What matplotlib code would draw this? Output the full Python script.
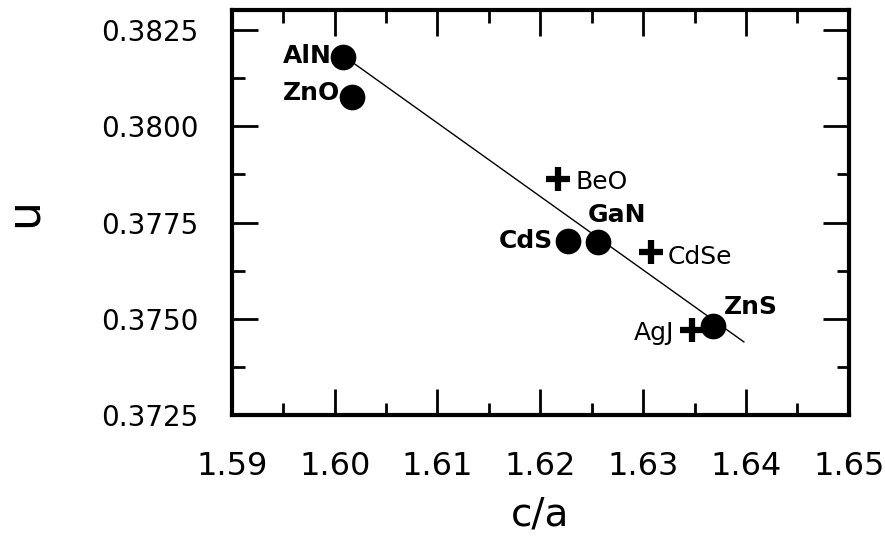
import matplotlib
matplotlib.use("Agg")
import matplotlib.pyplot as plt
from matplotlib.ticker import MultipleLocator

# wurtzite compounds: axial ratio c/a against internal parameter u
dot_names = ["AlN", "ZnO", "CdS", "GaN", "ZnS"]
dot_ca = [1.6008, 1.6017, 1.6227, 1.6256, 1.6368]
dot_u = [0.38180, 0.38076, 0.37702, 0.37700, 0.37481]

cross_names = ["BeO", "CdSe", "AgJ"]
cross_ca = [1.6217, 1.6308, 1.6348]
cross_u = [0.37863, 0.37673, 0.37471]

# fitted trend line
fit_ca = [1.6010, 1.6398]
fit_u = [0.38180, 0.37440]

# label offsets (points) and horizontal alignment
dot_offsets = [(-8, 1, "right"), (-9, 3, "right"), (-11, 0, "right"),
               (14, 19, "center"), (8, 14, "left")]
cross_offsets = [(13, -2, "left"), (12, -3.5, "left"), (-13, -2, "right")]

plt.rcParams["font.family"] = "DejaVu Sans"

fig = plt.figure(figsize=(8.85, 5.36), dpi=100)
ax = fig.add_axes([0.262, 0.2257, 0.697, 0.7556])

ax.plot(fit_ca, fit_u, color="black", lw=1.0, zorder=2)
ax.plot(dot_ca, dot_u, "o", color="black", ms=17.5, zorder=3)
ax.plot(cross_ca, cross_u, "+", color="black", ms=17, mew=4.5, zorder=3)

for name, x, y, (dx, dy, ha) in zip(dot_names, dot_ca, dot_u, dot_offsets):
    ax.annotate(name, (x, y), xytext=(dx, dy), textcoords="offset points",
                ha=ha, va="center", fontsize=18, fontweight="bold")
for name, x, y, (dx, dy, ha) in zip(cross_names, cross_ca, cross_u, cross_offsets):
    ax.annotate(name, (x, y), xytext=(dx, dy), textcoords="offset points",
                ha=ha, va="center", fontsize=18)

ax.set_xlim(1.59, 1.65)
ax.set_ylim(0.3725, 0.38302)
ax.xaxis.set_major_locator(MultipleLocator(0.01))
ax.xaxis.set_minor_locator(MultipleLocator(0.005))
ax.yaxis.set_major_locator(MultipleLocator(0.0025))
ax.yaxis.set_minor_locator(MultipleLocator(0.00125))
ax.xaxis.set_major_formatter(matplotlib.ticker.FormatStrFormatter("%.2f"))
ax.yaxis.set_major_formatter(matplotlib.ticker.FormatStrFormatter("%.4f"))

for side in ax.spines.values():
    side.set_linewidth(3)
ax.tick_params(which="both", direction="in", top=True, right=True, width=2)
ax.tick_params(which="major", length=19)
ax.tick_params(which="minor", length=9)
ax.tick_params(axis="x", which="major", labelsize=23, pad=26)
ax.tick_params(axis="y", which="major", labelsize=20, pad=24)

ax.set_xlabel("c/a", fontsize=28, va="baseline")
ax.set_ylabel("u", fontsize=33)
ax.xaxis.set_label_coords(0.5, -0.272)
ax.yaxis.set_label_coords(-0.30, 0.5)

fig.savefig("out.png", dpi=100)
